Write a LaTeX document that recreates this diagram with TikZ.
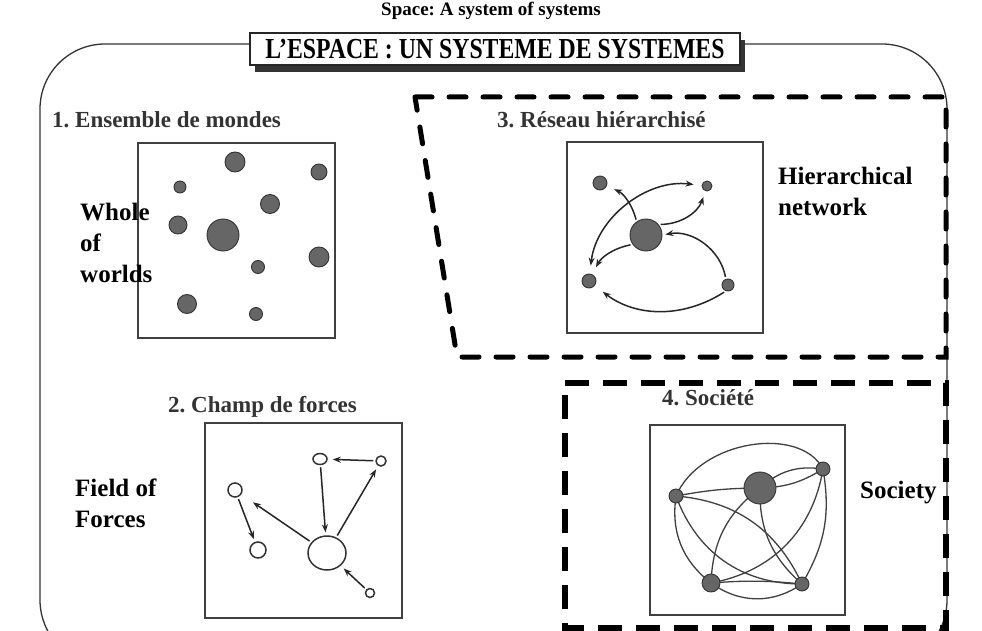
\documentclass[tikz,border=0pt]{standalone}
\usepackage{fontspec}
\setmainfont{Liberation Serif}
\usetikzlibrary{arrows.meta,shapes.geometric,shadows,backgrounds}
\frenchspacing

\begin{document}
\begin{tikzpicture}[x=1pt,y=-1pt,>={Stealth[length=8pt,width=6pt]},
  heading/.style={font=\bfseries\fontsize{23}{27}\selectfont,text=black!80,inner sep=0pt,anchor=base west},
  english/.style={font=\bfseries\fontsize{25}{31}\selectfont,align=left,inner sep=0pt,anchor=north west},
  panel/.style={draw=black!75,line width=1.4pt},
  world/.style={circle,fill=black!60,draw=black!80,line width=0.9pt,inner sep=0pt},
  ring/.style={ellipse,draw=black!80,line width=1.5pt,inner sep=0pt},
  link/.style={->,draw=black!85,line width=1.5pt,shorten >=3pt,shorten <=2pt},
  tie/.style={draw=black!75,line width=1.3pt},
  dashA/.style={draw=black,line width=5pt,dash pattern=on 17pt off 17pt,line cap=round},
  dashB/.style={draw=black,line width=6pt,dash pattern=on 24pt off 14pt}]

\useasboundingbox (0,0) rectangle (982,631);
\begin{scope}[on background layer]
\fill[white] (0,0) rectangle (982,631);
\end{scope}

% caption and frame
\node[font=\bfseries\fontsize{19}{22}\selectfont,anchor=base,inner sep=0pt] (caption) at (491,16) {Space: A system of systems};
\draw[line width=1.3pt,draw=black!80,rounded corners=65pt] (40,44) rectangle (947,665);
\node[draw=black!85,line width=1.2pt,fill=white,minimum width=490pt,minimum height=32pt,inner sep=0pt,
  drop shadow={shadow xshift=5pt,shadow yshift=-7pt,fill=black!80,opacity=1}] (title) at (495,49)
  {\scalebox{0.82}[1]{\bfseries\fontsize{29}{30}\selectfont L’ESPACE : UN SYSTEME DE SYSTEMES}};

% 1. ensemble de mondes
\node[heading] (h1) at (52,128) {1. Ensemble de mondes};
\draw[panel] (138,143) rectangle (335,338);
\foreach \x/\y/\d [count=\i] in {235/162/20,319/172/16,180/187/12,270/204/19,178/225/18,
    223/235/32,319/257/20,258/267/13,187/304/19,256/314/13}
  \node[world,minimum size=\d pt] (w\i) at (\x,\y) {};
\node[english] (whole) at (80,203) {Whole\\of\\worlds};

% 3. reseau hierarchise
\node[heading] (h3) at (497,128) {3. Réseau hiérarchisé};
\draw[panel] (567,142) rectangle (763,333);
\node[world,minimum size=32pt] (hc) at (646,235) {};
\node[world,minimum size=14pt] (htl) at (600,183) {};
\node[world,minimum size=10pt] (htr) at (707,186) {};
\node[world,minimum size=14pt] (hbl) at (589,281) {};
\node[world,minimum size=12pt] (hbr) at (728,285) {};
\draw[link,shorten >=8pt] (hc.125) to[bend right=25] (htl);
\draw[link,shorten >=6pt] (hc.40) to[bend right=35] (htr);
\draw[link,<->,shorten >=8pt,shorten <=8pt] (hbl) to[bend left=45] (htr);
\draw[link,shorten >=8pt] (hc.215) to[bend right=25] (hbl);
\draw[link] (hbr.110) to[bend right=45] (hc.east);
\draw[link,shorten >=10pt] (hbr.250) to[bend left=35] (hbl);
\node[english] (hier) at (778,167) {Hierarchical\\network};

% 2. champ de forces
\node[heading] (h2) at (168,412) {2. Champ de forces};
\draw[panel] (205,423) rectangle (402,618);
\node[ring,minimum width=14pt,minimum height=11pt] (fa) at (320,459) {};
\node[ring,minimum size=10pt] (fb) at (381,461) {};
\node[ring,minimum size=14pt] (fc) at (235,490) {};
\node[ring,minimum size=16pt] (fd) at (258,550) {};
\node[ring,minimum width=38pt,minimum height=34pt] (fbig) at (327,553) {};
\node[ring,minimum size=9pt] (fe) at (370,593) {};
\draw[link,shorten >=5pt] (fb) -- (fa);
\draw[link] (fa) -- (fbig);
\draw[link,shorten >=4pt] (fbig) -- (fb);
\draw[link,shorten >=14pt] (fbig) -- (fc);
\draw[link] (fc) -- (fd);
\draw[link,shorten >=4pt] (fe) -- (fbig);
\node[english] (field) at (75,479) {Field of\\Forces};

% 4. societe
\node[heading] (h4) at (662,405) {4. Société};
\draw[panel] (650,425) rectangle (845,615);
\node[world,minimum size=32pt] (sc) at (760,488) {};
\node[world,minimum size=14pt] (str) at (823,469) {};
\node[world,minimum size=14pt] (sl) at (676,496) {};
\node[world,minimum size=18pt] (sbl) at (711,583) {};
\node[world,minimum size=14pt] (sbr) at (802,584) {};
\begin{scope}[on background layer]
\draw[tie] (sl.center) .. controls (700,440) and (800,425) .. (str.center);
\draw[tie] (sl.center) to[bend left=5] (sc.center);
\draw[tie] (sc.center) to[bend left=25] (str.center);
\draw[tie] (sc.center) to[bend right=15] (str.center);
\draw[tie] (sl.center) to[bend left=30] (sbr.center);
\draw[tie] (sl.center) to[bend right=30] (sbl.center);
\draw[tie] (sl.center) to[bend right=35] (sbr.center);
\draw[tie] (sbl.center) to[bend right=35] (str.center);
\draw[tie] (sc.center) to[bend right=25] (sbl.center);
\draw[tie] (sc.center) to[bend right=25] (sbr.center);
\draw[tie] (sbl.center) to[bend right=35] (sbr.center);
\draw[tie] (sbl.center) to[bend left=5] (sbr.center);
\draw[tie] (str.center) to[bend left=20] (sbr.center);
\end{scope}
\node[english] (soc) at (860,481) {Society};

% dashed outlines
\draw[dashA] (415,97) -- (946,97) -- (946,357) -- (457,357) -- cycle;
\draw[dashB] (565,383) -- (946,383) -- (946,628) -- (565,628) -- cycle;
\end{tikzpicture}
\end{document}
